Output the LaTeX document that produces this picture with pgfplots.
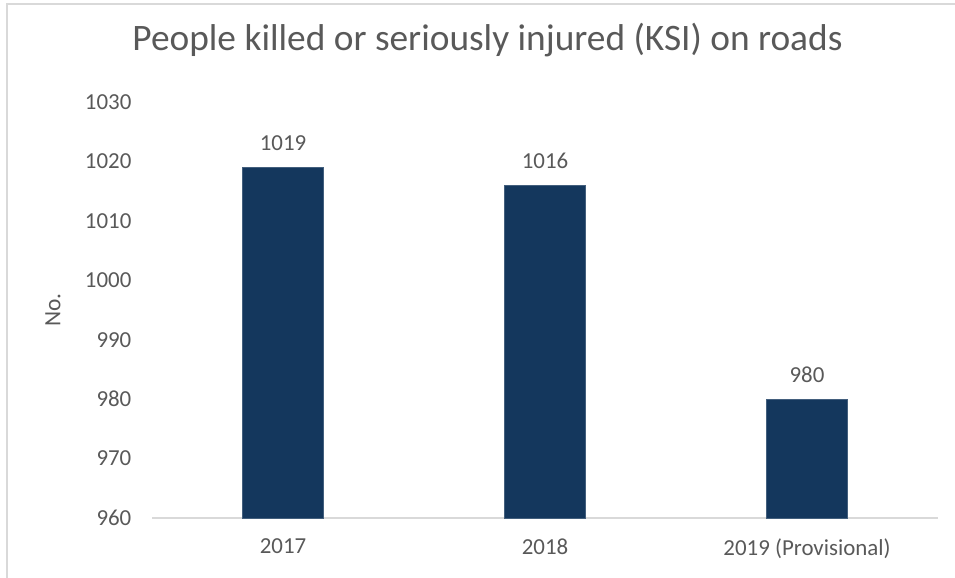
\documentclass[border=0pt]{standalone}
\usepackage{pgfplots}
\pgfplotsset{compat=1.18}
\usepackage{fontspec}
\setmainfont{Carlito}
\definecolor{barblue}{RGB}{20,55,93}
\definecolor{txtgray}{RGB}{89,89,89}
\definecolor{linegray}{RGB}{217,217,217}
\begin{document}
\begin{tikzpicture}[x=1bp,y=1bp]
\path[use as bounding box] (0,0) rectangle (955,578);
\draw[linegray, line width=1.5bp] (7,-20) -- (7,574) -- (980,574);
\begin{axis}[
  at={(152bp,60bp)}, anchor=south west,
  scale only axis, width=786bp, height=416bp,
  xmin=-0.5, xmax=2.5, ymin=960, ymax=1030,
  ytick={960,970,...,1030},
  xtick={0,1,2},
  xticklabels={2017,2018,2019 (Provisional)},
  axis x line=bottom, axis y line=left,
  x axis line style={linegray, line width=1.5bp, -},
  y axis line style={draw=none},
  xtick style={draw=none}, ytick style={draw=none},
  /pgf/number format/assume math mode=true,
  /pgf/number format/set thousands separator={},
  tick label style={font=\fontsize{23}{27}\selectfont, text=txtgray},
  yticklabel style={xshift=-15bp},
  xticklabel style={yshift=-13bp},
  every axis y label/.style={at={(axis description cs:-0.1260,0.5)}, rotate=90, anchor=center},
  ylabel={No.},
  label style={font=\fontsize{23.5}{27}\selectfont, text=txtgray},
  title={People killed or seriously injured (KSI) on roads},
  title style={at={(axis description cs:0.4268,1.1346)}, anchor=center, font=\fontsize{37.5}{44}\selectfont, text=txtgray},
  ybar, bar width=81bp,
  nodes near coords,
  every node near coord/.append style={font=\fontsize{23}{27}\selectfont, text=txtgray, yshift=13bp},
  clip=false,
]
\addplot[fill=barblue, draw=barblue!80!white, bar shift=0pt] coordinates {(0,1019) (1,1016) (2,980)};
\end{axis}
\end{tikzpicture}
\end{document}
